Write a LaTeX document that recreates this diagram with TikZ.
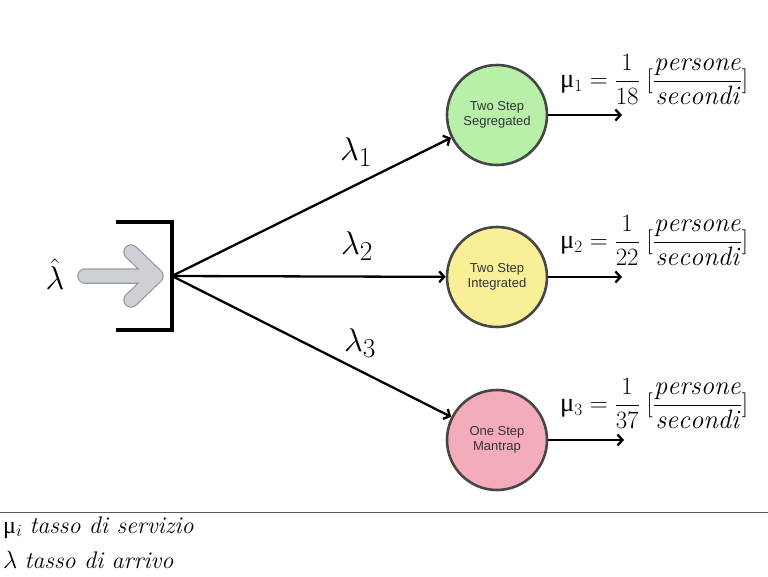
\documentclass[tikz,border=0pt]{standalone}
\usepackage{amsmath}
\usepackage{graphicx}
\usepackage{fontspec}
\usetikzlibrary{arrows.meta}
\newfontfamily\helv{Liberation Sans}
\newfontfamily\serifmu{Liberation Serif}
\newcommand{\biglab}[1]{\scalebox{1.32}{$#1$}}
\definecolor{cgreen}{RGB}{184,240,170}
\definecolor{cyellow}{RGB}{249,239,150}
\definecolor{cpink}{RGB}{245,172,186}
\definecolor{cborder}{RGB}{70,70,70}
\definecolor{arrowfill}{RGB}{205,208,213}
\definecolor{arrowedge}{RGB}{150,153,158}
\tikzset{
  server/.style={circle, draw=cborder, line width=2.6pt, minimum size=100pt, inner sep=0pt,
    align=center, font=\helv\fontsize{13}{15.5}\selectfont, text=black!80},
  flow/.style={line width=2.3pt, -{Straight Barb[length=5pt,width=11pt,line width=2.3pt]}},
  lab/.style={font=\fontsize{24.88}{30}\selectfont, inner sep=0pt},
  rate/.style={font=\fontsize{26.5}{30}\selectfont, anchor=west, inner sep=0pt},
  legend/.style={font=\fontsize{24}{26}\selectfont, anchor=base west, inner sep=0pt}
}
\begin{document}
\begin{tikzpicture}[x=1pt,y=-1pt]
\useasboundingbox (0,0) rectangle (768,576);
% servers
\node[server, fill=cgreen] (s1) at (497,115) {Two Step\\Segregated};
\node[server, fill=cyellow] (s2) at (497,277) {Two Step\\Integrated};
\node[server, fill=cpink] (s3) at (497,440) {One Step\\Mantrap};
% bracket
\coordinate (split) at (172,276);
\coordinate (bt) at (116,222);
\coordinate (bb) at (116,330);
\draw[line width=3.6pt] (bt) -| (split) |- (bb);
% gray input arrow
\coordinate (ga) at (85,276);
\coordinate (gt) at (156,276);
\coordinate (gu) at (131,252);
\coordinate (gl) at (131,300);
\draw[arrowedge, line width=15.5pt, line cap=round, line join=round] (ga) -- (gt) (gu) -- (gt) -- (gl);
\draw[arrowfill, line width=13pt, line cap=round, line join=round] (ga) -- (gt) (gu) -- (gt) -- (gl);
\node[lab] (lhat) at (55,274) {\biglab{\hat{\lambda}}};
% flows
\draw[flow] (split) -- (s1);
\draw[flow] (split) -- (s2);
\draw[flow] (split) -- (s3);
\node[lab] (l1) at (356,152) {\biglab{\lambda_1}};
\node[lab] (l2) at (357,246) {\biglab{\lambda_2}};
\node[lab] (l3) at (360,343) {\biglab{\lambda_3}};
% outputs
\coordinate (o1) at (622,115);
\coordinate (o2) at (622,277);
\coordinate (o3) at (624,440);
\draw[flow] (s1) -- (o1);
\draw[flow] (s2) -- (o2);
\draw[flow] (s3) -- (o3);
\node[rate] (r1) at (560,80) {{\serifmu μ}$_1 = \dfrac{1}{18}\;[\dfrac{\mathit{persone}}{\mathit{secondi}}]$};
\node[rate] (r2) at (560,241) {{\serifmu μ}$_2 = \dfrac{1}{22}\;[\dfrac{\mathit{persone}}{\mathit{secondi}}]$};
\node[rate] (r3) at (560,404) {{\serifmu μ}$_3 = \dfrac{1}{37}\;[\dfrac{\mathit{persone}}{\mathit{secondi}}]$};
% legend
\coordinate (hl) at (0,512);
\coordinate (hr) at (768,512);
\draw[black!65, line width=0.8pt] (hl) -- (hr);
\node[legend] (leg1) at (3,533) {{\serifmu μ}$_i$ \itshape tasso di servizio};
\node[legend] (leg2) at (3,568) {$\lambda$ \itshape tasso di arrivo};
\end{tikzpicture}
\end{document}
